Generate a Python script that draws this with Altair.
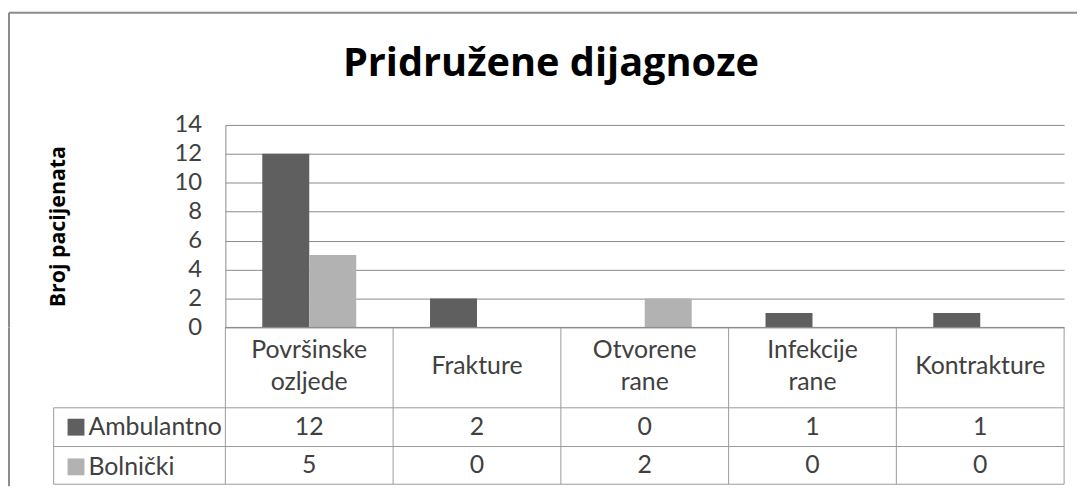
import altair as alt
import pandas as pd

categories = ["Površinske ozljede", "Frakture", "Otvorene rane", "Infekcije rane", "Kontrakture"]
header_labels = ["Površinske\nozljede", "Frakture", "Otvorene\nrane", "Infekcije\nrane", "Kontrakture"]
series = ["Ambulantno", "Bolnički"]
ambulantno = [12, 2, 0, 1, 1]
bolnicki = [5, 0, 2, 0, 0]
colors = ["#5f5f5f", "#b2b2b2"]
title_text = "Pridružene dijagnoze"
y_title = "Broj pacijenata"
y_ticks = [0, 2, 4, 6, 8, 10, 12, 14]

rows = []
for s, vals in zip(series, [ambulantno, bolnicki]):
    for c, v in zip(categories, vals):
        rows.append({"category": c, "series": s, "value": v})
df = pd.DataFrame(rows)
hdr = pd.DataFrame({"category": categories, "label": header_labels})
hdr["multi"] = hdr["label"].str.contains("\n")
hdr_multi = hdr[hdr["multi"]].drop(columns="multi")
hdr_single = hdr[~hdr["multi"]].drop(columns="multi")
hdr_all = hdr.drop(columns="multi")
one = pd.DataFrame({"k": [0]})

W, H1, H2 = 845, 204, 158
FONT = "Lato"
BOLD = "Open Sans"
TXT = "#404040"
GRID = "#8a8a8a"
TBL = "#9a9a9a"
FRAME = "#8c8c8c"


def hline(y, x1, x2, color, sw=1):
    return alt.Chart(one).mark_rule(color=color, strokeWidth=sw).encode(
        y=alt.value(y), x=alt.value(x1), x2=alt.value(x2))


def vline(x, y1, y2, color, sw=1):
    return alt.Chart(one).mark_rule(color=color, strokeWidth=sw).encode(
        x=alt.value(x), y=alt.value(y1), y2=alt.value(y2))


bars = alt.Chart(df).mark_bar().encode(
    x=alt.X("category:N", sort=categories, axis=None,
            scale=alt.Scale(paddingInner=0.44, paddingOuter=0.22)),
    xOffset=alt.XOffset("series:N", sort=series),
    y=alt.Y("value:Q", scale=alt.Scale(domain=[0, 14]),
            axis=alt.Axis(values=y_ticks, title=y_title, titleFont=BOLD, titleFontSize=21.5,
                          titleFontWeight="bold", titleColor="black", titleX=-168, titleY=102,
                          titleAngle=270, titleBaseline="middle",
                          labelFont=FONT, labelFontSize=24, labelColor=TXT, labelPadding=24,
                          ticks=False, domainColor=GRID, grid=True, gridColor=GRID)),
    color=alt.Color("series:N", sort=series, scale=alt.Scale(domain=series, range=colors),
                    legend=None),
)

title = alt.Chart(one).mark_text(text=title_text, font=BOLD, fontSize=40, fontWeight="bold",
                                  color="black", align="center", baseline="alphabetic").encode(
    x=alt.value(328), y=alt.value(-49))

top = alt.layer(
    bars,
    title,
    hline(-113, -218, 858, FRAME, 2),
    vline(-218, -113, H1, FRAME, 2),
).properties(width=W, height=H1)

xs = alt.Scale(type="band", paddingInner=0, paddingOuter=0)


def header_layer(data, y):
    return alt.Chart(data).mark_text(font=FONT, fontSize=25, color=TXT, lineBreak="\n",
                                     lineHeight=32, baseline="middle").encode(
        x=alt.X("category:N", sort=categories, scale=xs, axis=None),
        y=alt.value(y),
        text="label:N",
    )


values = alt.Chart(df).mark_text(font=FONT, fontSize=25, color=TXT, baseline="middle").encode(
    x=alt.X("category:N", sort=categories, scale=xs, axis=None),
    y=alt.Y("series:N", scale=alt.Scale(type="point", domain=series, range=[100, 139], padding=0),
            axis=None),
    text="value:Q",
)

vlines = alt.Chart(hdr_all).mark_rule(color=TBL, strokeWidth=1).encode(
    x=alt.X("category:N", sort=categories, scale=xs, axis=None, bandPosition=0),
    y=alt.value(0), y2=alt.value(H2),
)

legend_layer = alt.Chart(df).mark_square(opacity=0, size=1).encode(
    color=alt.Color("series:N", sort=series, scale=alt.Scale(domain=series, range=colors),
                    legend=alt.Legend(orient="none", legendX=-163, legendY=88, title=None,
                                      direction="vertical", symbolType="square", symbolSize=289,
                                      symbolOpacity=1, symbolStrokeWidth=0,
                                      labelFont=FONT, labelFontSize=25, labelColor=TXT,
                                      rowPadding=14, labelOffset=0, padding=0)),
    x=alt.value(0), y=alt.value(0),
)

bottom = alt.layer(
    vlines,
    vline(W, 0, H2, TBL),
    vline(-173, 81, H2, TBL),
    hline(81, -173, W, TBL),
    hline(120, -173, W, TBL),
    hline(H2, -173, W, TBL),
    hline(0, 0, W, GRID),
    header_layer(hdr_single, 39),
    header_layer(hdr_multi, 23),
    values,
    legend_layer,
    vline(-218, 0, 160, FRAME, 2),
).properties(width=W, height=H2)

chart = alt.vconcat(top, bottom, spacing=0, bounds="flush").resolve_scale(
    x="independent", y="independent"
).resolve_legend(color="independent").properties(
    padding={"left": 0, "top": 2, "right": 0, "bottom": 0}
).configure_view(stroke=None)

chart.save("out.html", embed_options={"renderer": "svg", "actions": False})
